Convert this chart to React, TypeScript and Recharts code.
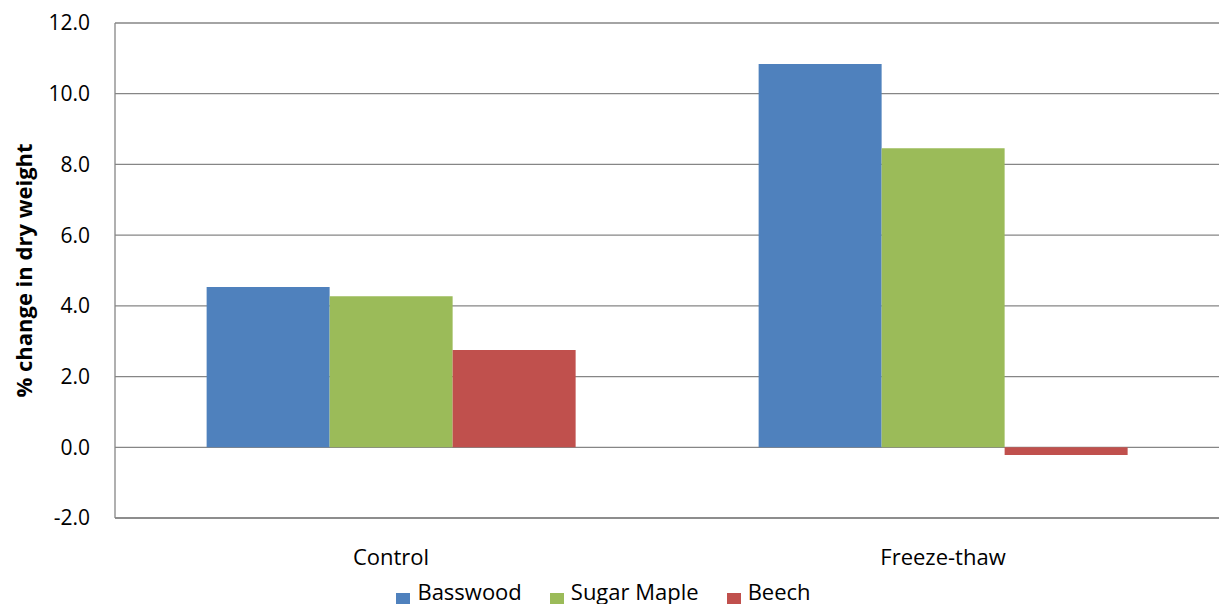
import { BarChart, Bar, XAxis, YAxis, CartesianGrid, Legend } from "recharts"

const categories = ["Control", "Freeze-thaw"]
const basswood = [4.53, 10.84]
const sugarMaple = [4.27, 8.46]
const beech = [2.75, -0.22]
const yTicks = [-2, 0, 2, 4, 6, 8, 10, 12]

const seriesNames = ["Basswood", "Sugar Maple", "Beech"]
const seriesColors = ["#4F81BD", "#9BBB59", "#C0504D"]

const FONT = "'Open Sans', Lato, sans-serif"
const GRID = "#868686"

const data = categories.map((name, i) => ({
  name,
  basswood: basswood[i],
  sugarMaple: sugarMaple[i],
  beech: beech[i],
}))

function LegendContent() {
  return (
    <div
      style={{
        height: 42,
        boxSizing: "border-box",
        paddingTop: 0,
        paddingRight: 12,
        display: "flex",
        justifyContent: "center",
        alignItems: "flex-start",
        fontFamily: FONT,
        fontSize: 22,
        color: "#000",
      }}
    >
      {seriesNames.map((n, i) => (
        <div key={n} style={{ display: "flex", alignItems: "center", marginRight: i < 2 ? 28 : 0, lineHeight: "26px" }}>
          <span
            style={{
              width: 14,
              height: 14,
              background: seriesColors[i],
              marginRight: 7,
              display: "inline-block",
              position: "relative",
              top: 9,
            }}
          />
          <span>{n}</span>
        </div>
      ))}
    </div>
  )
}

export default function App() {
  return (
    <div style={{ position: "absolute", left: 0, top: 0, fontFamily: FONT }}>
      <BarChart
        width={1219}
        height={620}
        data={data}
        margin={{ top: 23, right: 0, bottom: 0, left: 0 }}
        barCategoryGap="16.6%"
        barGap={0}
      >
        <CartesianGrid horizontal vertical={false} stroke={GRID} strokeWidth={1.3} />
        <XAxis
          dataKey="name"
          height={60}
          tickLine={false}
          tickSize={0}
          tickMargin={31}
          axisLine={{ stroke: GRID, strokeWidth: 1.3 }}
          tick={{ fill: "#000", fontSize: 22, fontFamily: FONT }}
        />
        <YAxis
          width={115}
          domain={[-2, 12]}
          ticks={yTicks}
          interval={0}
          tickLine={false}
          tickSize={0}
          tickMargin={25}
          tickFormatter={(v: number) => v.toFixed(1)}
          axisLine={{ stroke: GRID, strokeWidth: 1.3 }}
          tick={{ fill: "#000", fontSize: 21, fontFamily: FONT }}
          label={{
            value: "% change in dry weight",
            angle: -90,
            position: "center",
            dx: -33,
            style: { fontSize: 22, fontWeight: 700, fill: "#000", fontFamily: FONT },
          }}
        />
        <Legend verticalAlign="bottom" height={42} content={<LegendContent />} />
        <Bar dataKey="basswood" name="Basswood" fill="#4F81BD" isAnimationActive={false} />
        <Bar dataKey="sugarMaple" name="Sugar Maple" fill="#9BBB59" isAnimationActive={false} />
        <Bar dataKey="beech" name="Beech" fill="#C0504D" isAnimationActive={false} />
      </BarChart>
    </div>
  )
}
